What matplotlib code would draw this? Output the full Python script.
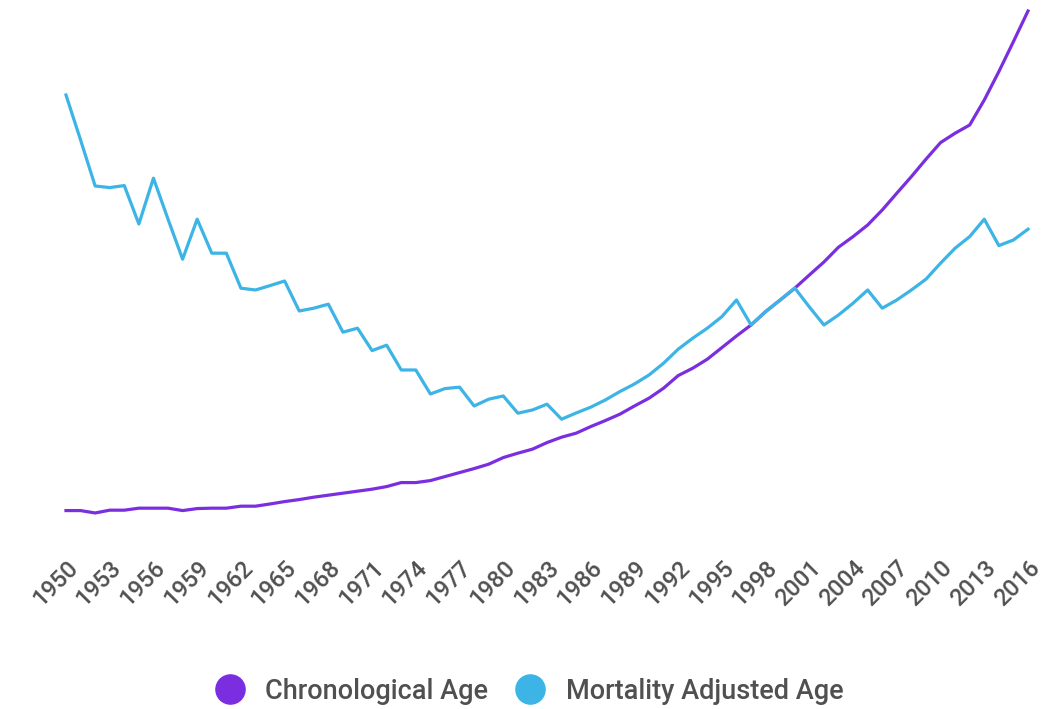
import matplotlib.pyplot as plt
from matplotlib.lines import Line2D

years = list(range(1950, 2017))

chronological_age = [
    24.97, 24.97, 24.85, 24.99, 24.99, 25.09, 25.09, 25.09, 24.97, 25.07,
    25.09, 25.09, 25.19, 25.19, 25.30, 25.42, 25.52, 25.64, 25.74, 25.84,
    25.94, 26.04, 26.17, 26.37, 26.37, 26.47, 26.67, 26.87, 27.07, 27.29,
    27.62, 27.84, 28.04, 28.37, 28.64, 28.84, 29.17, 29.47, 29.79, 30.20,
    30.59, 31.09, 31.72, 32.09, 32.54, 33.12, 33.70, 34.25, 34.92, 35.50,
    36.09, 36.75, 37.40, 38.14, 38.67, 39.25, 40.00, 40.84, 41.67, 42.54,
    43.37, 43.84, 44.25, 45.50, 46.92, 48.42, 49.95,
]

mortality_adjusted_age = [
    45.75, 43.50, 41.20, 41.12, 41.22, 39.30, 41.59, 39.54, 37.54, 39.54,
    37.84, 37.84, 36.09, 36.00, 36.22, 36.45, 34.95, 35.09, 35.29, 33.89,
    34.09, 32.97, 33.24, 32.00, 32.00, 30.80, 31.07, 31.14, 30.20, 30.54,
    30.70, 29.84, 30.00, 30.29, 29.54, 29.85, 30.14, 30.50, 30.92, 31.30,
    31.75, 32.34, 33.04, 33.59, 34.09, 34.67, 35.50, 34.25, 34.92, 35.50,
    36.10, 35.15, 34.25, 34.75, 35.34, 36.00, 35.09, 35.50, 36.00, 36.54,
    37.34, 38.09, 38.67, 39.54, 38.22, 38.50, 39.04,
]

tick_years = years[::3]

PURPLE = "#7a2ee0"
BLUE = "#3cb4e5"
TEXT = "#505050"

plt.rcParams["font.family"] = ["Roboto", "DejaVu Sans"]

fig = plt.figure(figsize=(10.61, 7.09), dpi=100)
ax = fig.add_axes([0.0622, 0.2384, 0.9067, 0.7616])

ax.plot(years, chronological_age, color=PURPLE, linewidth=2.3,
        clip_on=False, solid_joinstyle="round")
ax.plot(years, mortality_adjusted_age, color=BLUE, linewidth=2.3,
        clip_on=False, solid_joinstyle="round")

ax.set_xlim(1950, 2016)
ax.set_ylim(23.5, 50.5)
ax.set_yticks([])
ax.set_xticks(tick_years)
ax.set_xticklabels([str(y) for y in tick_years], rotation=45, ha="right",
                   va="top", rotation_mode="anchor", fontsize=17,
                   fontweight="medium", color=TEXT)
ax.tick_params(axis="x", length=0, pad=12)
for side in ax.spines.values():
    side.set_visible(False)

handles = [
    Line2D([], [], marker="o", linestyle="", markersize=21, color=PURPLE),
    Line2D([], [], marker="o", linestyle="", markersize=21, color=BLUE),
]
fig.legend(handles, ["Chronological Age", "Mortality Adjusted Age"],
           loc="center", bbox_to_anchor=(0.493, 0.025), ncol=2,
           frameon=False, prop={"size": 19.5, "weight": "medium"},
           labelcolor=TEXT, handletextpad=0.3, columnspacing=0.55)

fig.savefig("out.png", dpi=100)
